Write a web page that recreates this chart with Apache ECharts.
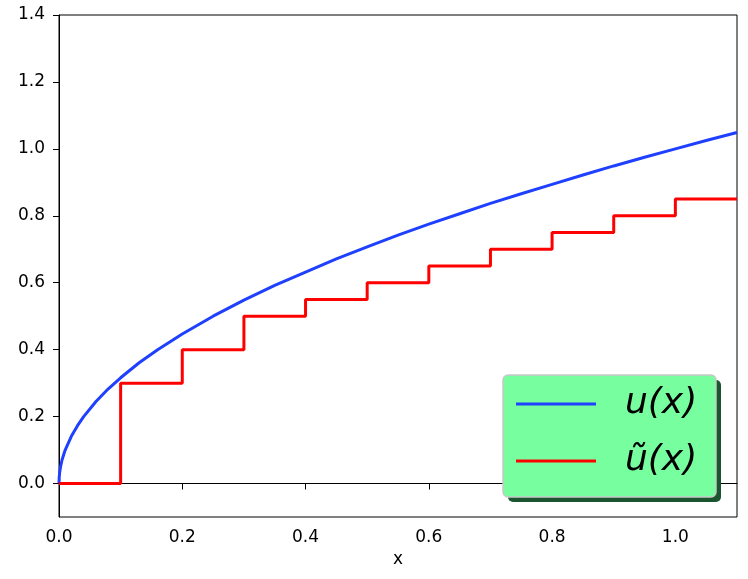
<!DOCTYPE html>
<html>
<head>
<meta charset="utf-8">
<script src="https://cdn.jsdelivr.net/npm/echarts@6/dist/echarts.min.js"></script>
<style>html,body{margin:0;padding:0;background:#fff}#c{width:748px;height:579px}</style>
</head>
<body>
<div id="c"></div>
<script>
// u(x)
var uX = [0, 0.0004, 0.001, 0.0025, 0.005, 0.01, 0.02, 0.03, 0.04, 0.06, 0.08, 0.1, 0.13, 0.16, 0.2, 0.25, 0.3, 0.35, 0.4, 0.45, 0.5, 0.55, 0.6, 0.65, 0.7, 0.75, 0.8, 0.85, 0.9, 0.95, 1.0, 1.05, 1.1];
var uY = [0, 0.02, 0.032, 0.05, 0.071, 0.1, 0.141, 0.173, 0.2, 0.245, 0.283, 0.316, 0.361, 0.4, 0.447, 0.5, 0.548, 0.592, 0.632, 0.671, 0.707, 0.742, 0.775, 0.806, 0.837, 0.866, 0.894, 0.922, 0.949, 0.975, 1.0, 1.025, 1.049];
// step function ũ(x)
var sX = [0, 0.1, 0.2, 0.3, 0.4, 0.5, 0.6, 0.7, 0.8, 0.9, 1.0, 1.1];
var sY = [0, 0.3, 0.4, 0.5, 0.55, 0.6, 0.65, 0.7, 0.75, 0.8, 0.85, 0.85];
var xTicks = [0, 0.2, 0.4, 0.6, 0.8, 1.0];
var yTicks = [0, 0.2, 0.4, 0.6, 0.8, 1.0, 1.2, 1.4];
var names = ['u(x)', 'ũ(x)'];

function zip(a, b) { return a.map(function (v, i) { return [v, b[i]]; }); }

var chart = echarts.init(document.getElementById('c'));
var axisLine = { show: true, lineStyle: { color: '#000', width: 1 } };
var tick = { show: true, length: 6, inside: false, lineStyle: { color: '#000' } };
var label = { color: '#000', fontSize: 17, fontFamily: 'DejaVu Sans' };
chart.setOption({
  animation: false,
  grid: { left: 59, top: 15, right: 11, bottom: 62, show: true, borderColor: '#000', borderWidth: 1, backgroundColor: 'transparent' },
  xAxis: {
    type: 'value', min: 0, max: 1.1,
    name: 'x', nameLocation: 'middle', nameGap: 33,
    nameTextStyle: { color: '#000', fontSize: 17, fontFamily: 'DejaVu Sans' },
    axisLine: axisLine,
    axisTick: Object.assign({}, tick, { customValues: xTicks }),
    splitLine: { show: false },
    axisLabel: Object.assign({}, label, { margin: 12, customValues: xTicks, formatter: function (v) { return v.toFixed(1); } })
  },
  yAxis: {
    type: 'value', min: -0.1, max: 1.4,
    axisLine: axisLine,
    axisTick: Object.assign({}, tick, { customValues: yTicks }),
    splitLine: { show: false },
    axisLabel: Object.assign({}, label, { margin: 14, customValues: yTicks, formatter: function (v) { return v.toFixed(1); } })
  },
  graphic: [
    { type: 'rect', z: 5, shape: { x: 508, y: 380, width: 213, height: 122, r: 5 }, style: { fill: '#1b5530' } },
    { type: 'rect', z: 6, shape: { x: 503, y: 375, width: 213, height: 122, r: 5 }, style: { fill: '#77ff9f', stroke: '#c8c8c8', lineWidth: 1.5 } }
  ],
  legend: {
    orient: 'vertical', left: 516, top: 386, z: 10,
    data: [{ name: names[0], icon: 'rect' }, { name: names[1], icon: 'rect' }],
    itemWidth: 80, itemHeight: 3, itemGap: 21,
    padding: 0,
    textStyle: { color: '#000', fontSize: 36, lineHeight: 36, fontStyle: 'italic', fontFamily: 'DejaVu Sans', padding: [0, 0, 0, 24] }
  },
  series: [
    { name: names[0], type: 'line', data: zip(uX, uY), showSymbol: false, symbol: 'none', lineStyle: { color: '#2040ff', width: 3 }, itemStyle: { color: '#2040ff' }, z: 2 },
    { name: names[1], type: 'line', step: 'end', data: zip(sX, sY), showSymbol: false, symbol: 'none', lineStyle: { color: '#ff0000', width: 3 }, itemStyle: { color: '#ff0000' }, z: 3 }
  ]
});
</script>
</body>
</html>
